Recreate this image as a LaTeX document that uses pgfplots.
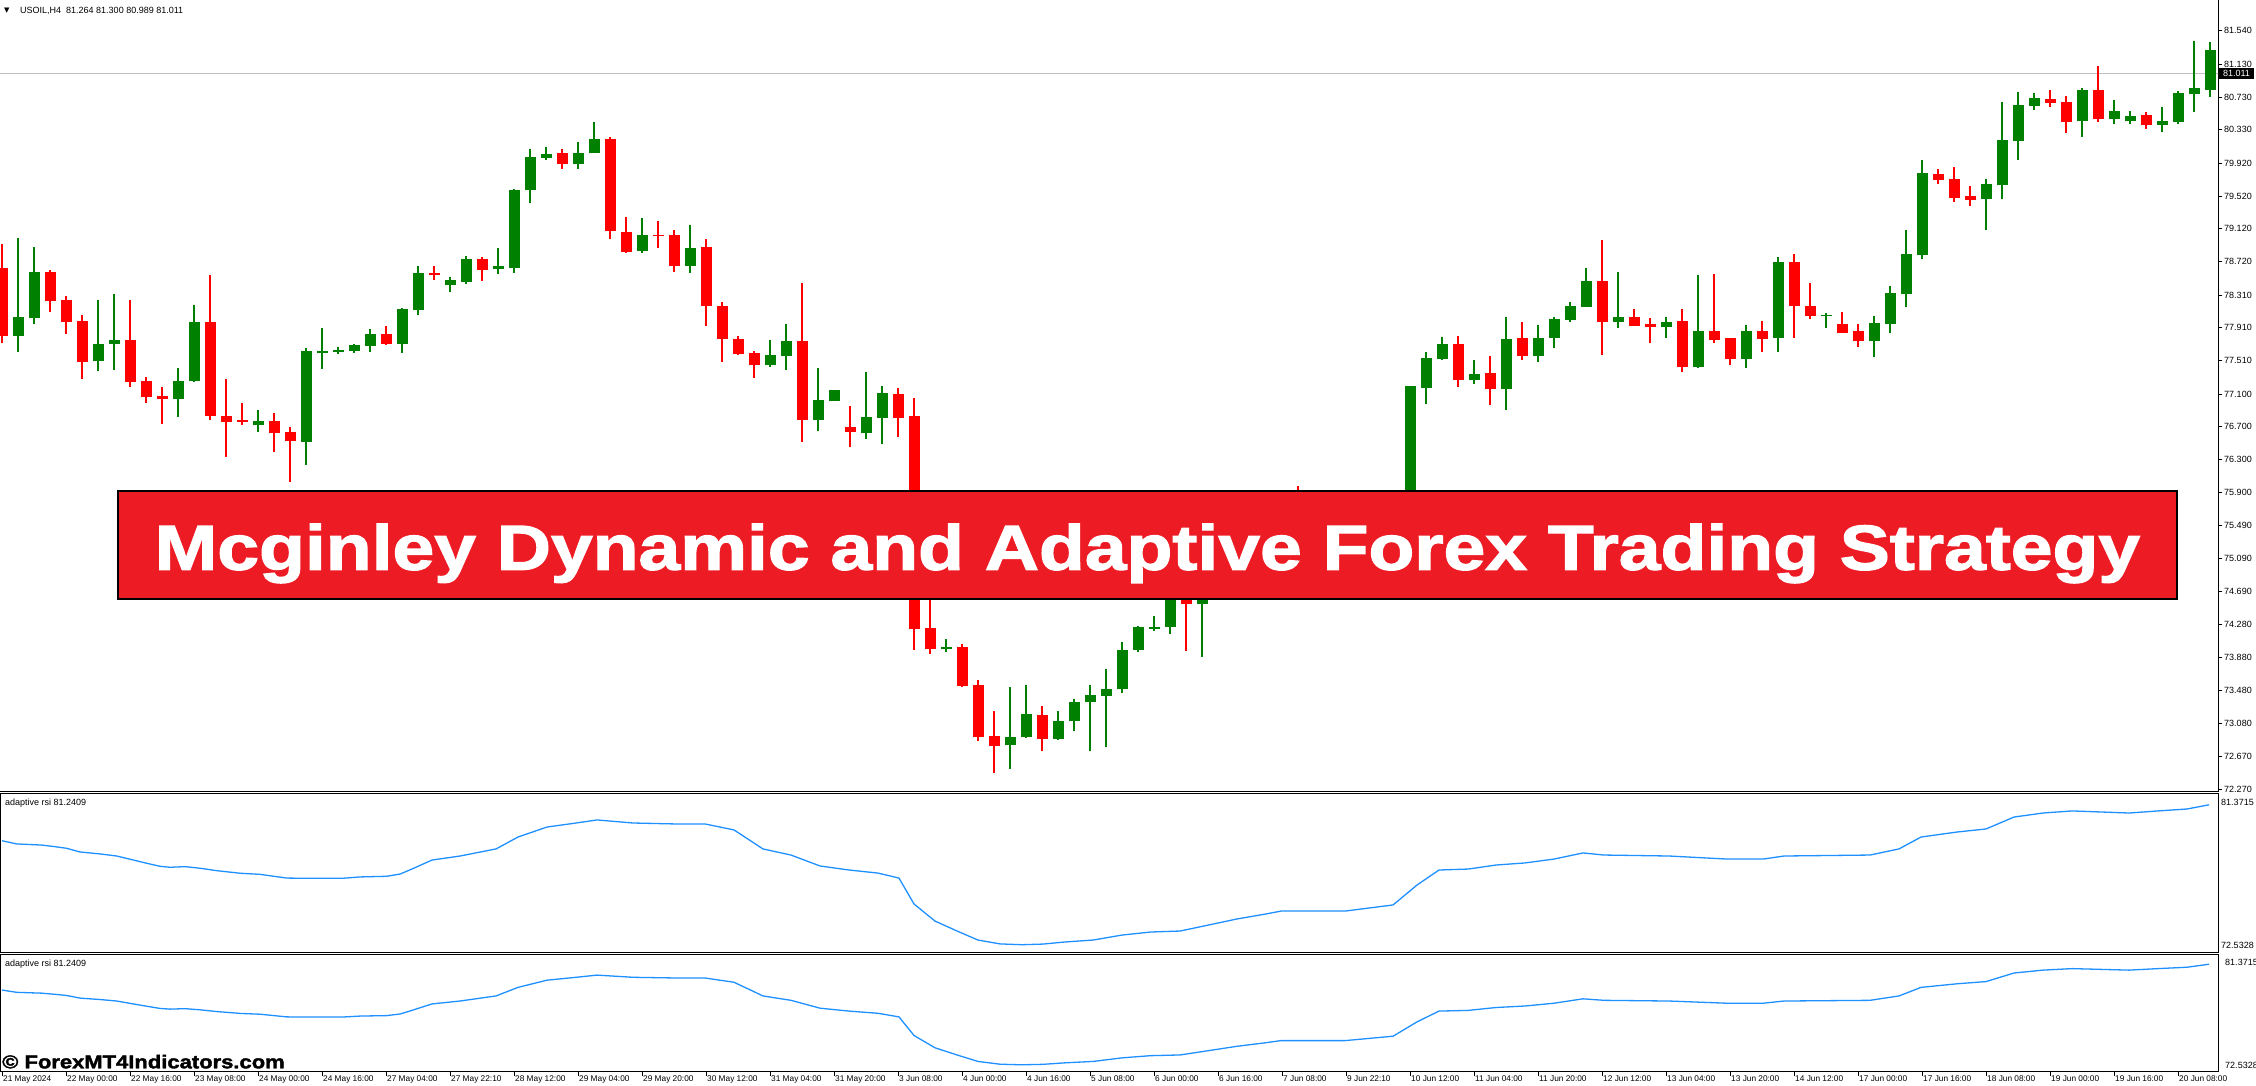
\documentclass[border=0pt]{standalone}
\usepackage{fontspec}
\setmainfont{Liberation Sans}
\newfontfamily\dejavu{DejaVu Sans}
\newfontfamily\bannerfont{Liberation Sans}[FakeStretch=1.182,FakeBold=2]
\usepackage{pgfplots}
\usepackage{pgfplotstable}
\pgfplotsset{compat=1.18}
\definecolor{cgreen}{RGB}{0,128,0}
\definecolor{cred}{RGB}{255,0,0}
\definecolor{bannerred}{RGB}{237,28,36}
\definecolor{rsiblue}{RGB}{30,144,255}
\definecolor{pgrey}{RGB}{192,192,192}

% bullish candles: index open high low close
\pgfplotstableread{
i o h l c
1 77.81 79.01 77.61 78.04
2 78.03 78.90 77.96 78.59
6 77.50 78.25 77.38 77.71
7 77.71 78.32 77.39 77.76
11 77.04 77.42 76.82 77.26
12 77.26 78.19 77.25 77.98
16 76.72 76.91 76.64 76.77
19 76.51 77.66 76.23 77.63
20 77.60 77.91 77.41 77.63
21 77.61 77.68 77.59 77.64
22 77.63 77.71 77.60 77.70
23 77.69 77.90 77.61 77.83
25 77.71 78.15 77.60 78.14
26 78.13 78.66 78.07 78.58
28 78.43 78.53 78.35 78.49
29 78.47 78.79 78.45 78.75
31 78.63 78.89 78.57 78.66
32 78.64 79.61 78.58 79.59
33 79.59 80.09 79.43 80.00
34 79.98 80.12 79.96 80.03
36 79.91 80.18 79.85 80.05
37 80.05 80.42 80.04 80.22
40 78.85 79.25 78.82 79.05
43 78.66 79.16 78.58 78.89
48 77.46 77.76 77.43 77.58
49 77.57 77.96 77.39 77.75
51 76.78 77.42 76.65 77.03
52 77.02 77.15 77.02 77.15
54 76.63 77.37 76.55 76.82
55 76.81 77.20 76.49 77.11
59 73.98 74.11 73.95 74.01
63 72.81 73.52 72.52 72.91
64 72.91 73.55 72.90 73.19
66 72.88 73.23 72.87 73.10
67 73.10 73.37 72.98 73.34
68 73.33 73.54 72.74 73.42
69 73.41 73.74 72.79 73.50
70 73.50 74.07 73.45 73.97
71 73.97 74.27 73.95 74.25
72 74.24 74.39 74.20 74.25
73 74.25 74.80 74.17 74.70
75 74.53 75.00 73.88 74.90
76 74.90 75.05 74.80 74.98
77 74.98 75.15 74.85 75.10
78 75.10 75.30 75.00 75.25
80 75.20 75.70 75.15 75.60
83 75.35 75.50 75.20 75.45
85 75.40 75.55 75.25 75.50
87 75.45 75.80 75.40 75.75
88 75.75 77.20 75.70 77.20
89 77.18 77.61 76.98 77.54
90 77.53 77.80 77.51 77.71
92 77.27 77.52 77.22 77.35
94 77.16 78.04 76.91 77.77
96 77.57 77.94 77.49 77.78
97 77.78 78.04 77.66 78.02
98 78.01 78.23 77.98 78.18
99 78.16 78.64 78.16 78.48
101 77.98 78.59 77.91 78.04
104 77.92 78.04 77.79 77.98
106 77.43 78.56 77.42 77.87
109 77.53 77.94 77.42 77.87
111 77.78 78.78 77.61 78.71
114 78.05 78.09 77.91 78.07
117 77.75 78.05 77.55 77.97
118 77.96 78.42 77.85 78.34
119 78.32 79.10 78.16 78.81
120 78.80 79.96 78.75 79.80
124 79.48 79.73 79.10 79.67
125 79.65 80.67 79.48 80.20
126 80.19 80.79 79.96 80.63
127 80.62 80.78 80.57 80.72
130 80.44 80.84 80.24 80.82
132 80.46 80.69 80.40 80.56
133 80.44 80.56 80.40 80.50
135 80.39 80.61 80.30 80.44
136 80.42 80.80 80.40 80.78
137 80.77 81.41 80.55 80.84
138 80.82 81.40 80.73 81.30
}\upbars

% bearish candles: index open high low close
\pgfplotstableread{
i o h l c
0 78.64 78.94 77.73 77.81
3 78.59 78.62 78.10 78.24
4 78.25 78.30 77.83 77.98
5 77.99 78.07 77.28 77.49
8 77.76 78.25 77.19 77.25
9 77.26 77.31 76.99 77.06
10 77.08 77.19 76.73 77.04
13 77.98 78.56 76.78 76.83
14 76.83 77.28 76.33 76.76
15 76.78 76.99 76.72 76.76
17 76.77 76.87 76.39 76.62
18 76.64 76.70 76.03 76.53
24 77.83 77.93 77.70 77.71
27 78.58 78.66 78.49 78.56
30 78.75 78.78 78.48 78.62
35 80.04 80.10 79.85 79.91
38 80.22 80.24 78.99 79.09
39 79.08 79.26 78.82 78.84
41 79.05 79.21 78.89 79.03
42 79.04 79.10 78.59 78.66
44 78.90 79.00 77.93 78.18
45 78.18 78.22 77.49 77.77
46 77.77 77.81 77.58 77.59
47 77.60 77.63 77.30 77.46
50 77.75 78.46 76.51 76.78
53 76.70 76.95 76.45 76.64
56 77.10 77.17 76.57 76.81
57 76.83 77.05 73.97 74.23
58 74.24 74.70 73.92 73.98
60 74.01 74.05 73.52 73.53
61 73.54 73.61 72.86 72.91
62 72.92 73.23 72.47 72.80
65 73.18 73.29 72.74 72.88
74 74.75 74.85 73.96 74.53
79 75.25 75.40 75.10 75.20
81 75.60 75.98 75.40 75.50
82 75.50 75.60 75.25 75.35
84 75.45 75.60 75.30 75.40
86 75.50 75.65 75.35 75.45
91 77.71 77.81 77.19 77.27
93 77.36 77.57 76.97 77.16
95 77.78 77.98 77.52 77.57
100 78.48 78.98 77.58 77.98
102 78.04 78.14 77.93 77.93
103 77.96 78.03 77.72 77.92
105 77.99 78.14 77.37 77.43
107 77.87 78.57 77.72 77.76
108 77.78 77.79 77.46 77.53
110 77.87 77.99 77.61 77.77
112 78.71 78.81 77.79 78.18
113 78.18 78.46 78.02 78.05
115 77.96 78.10 77.84 77.85
116 77.87 77.96 77.68 77.75
121 79.79 79.85 79.67 79.72
122 79.73 79.87 79.45 79.50
123 79.52 79.64 79.40 79.47
128 80.71 80.82 80.61 80.66
129 80.67 80.74 80.29 80.42
131 80.82 81.11 80.42 80.46
134 80.51 80.55 80.34 80.39
}\downbars

% adaptive rsi line
\pgfplotstableread{
x v
0 79.01
0.92 78.81
2.48 78.74
3.31 78.64
4.04 78.54
4.88 78.31
6.13 78.19
7.17 78.06
8.21 77.81
9.04 77.61
9.88 77.42
10.5 77.36
11.44 77.40
12.38 77.30
13.42 77.15
14.88 76.99
16.13 76.92
17.79 76.69
18.63 76.68
21.33 76.68
22.38 76.76
24.04 76.80
24.88 76.94
25.5 77.20
26.88 77.81
28.63 78.06
30.88 78.50
32.25 79.24
34.06 79.86
35.88 80.11
37.19 80.30
39.44 80.11
42.13 80.05
43.94 80.05
45.75 79.68
47.56 78.50
49.31 78.12
51.13 77.44
52.94 77.19
54.75 77.00
56.06 76.69
57 75.08
58.31 74.02
59.69 73.40
61 72.84
62.38 72.60
63.75 72.55
65.06 72.59
66.44 72.72
68.19 72.84
70 73.15
71.81 73.34
73.63 73.40
75.44 73.78
77.19 74.15
79 74.46
79.94 74.64
83.94 74.64
86.94 75.02
88.44 76.26
89.81 77.19
91.63 77.25
93.38 77.50
95.19 77.63
97 77.87
98.81 78.25
100.13 78.12
104.19 78.06
107.81 77.87
110.06 77.87
111.38 78.06
116.75 78.12
118.56 78.50
119.94 79.24
122.19 79.55
124 79.74
125.75 80.48
127.56 80.73
129.38 80.86
132.94 80.73
134.75 80.86
136.56 80.98
137.94 81.24
}\rsidata

\pgfplotsset{
  candlewick/.style={draw=none, no markers, forget plot,
    error bars/.cd, y dir=both, y explicit, error mark=none,
    error bar style={line width=1.4pt, draw=#1, solid}},
  candlebody/.style={draw=none, no markers, forget plot,
    error bars/.cd, y dir=both, y explicit, error mark=none,
    error bar style={line width=11pt, draw=#1, solid}},
  pane/.style={scale only axis, width=2218pt, xmin=-0.125, xmax=138.5,
    axis line style={black, line width=1pt}, anchor=south west},
}

\begin{document}
\begin{tikzpicture}
\useasboundingbox (0pt,0pt) rectangle (2256pt,1086pt);
\fill[white] (0pt,0pt) rectangle (2256pt,1086pt);

% ---------------- main price pane ----------------
\begin{axis}[pane,
  at={(0pt,294.3pt)}, height=791.7pt,
  ymin=72.240, ymax=81.915,
  xtick=\empty,
  ytick={72.270,72.670,73.080,73.480,73.880,74.280,74.690,75.090,75.490,75.900,76.300,76.700,77.100,77.510,77.910,78.310,78.720,79.120,79.520,79.920,80.330,80.730,81.130,81.540},
  yticklabels={72.270,72.670,73.080,73.480,73.880,74.280,74.690,75.090,75.490,75.900,76.300,76.700,77.100,77.510,77.910,78.310,78.720,79.120,79.520,79.920,80.330,80.730,81.130,81.540},
  ytick pos=right, yticklabel pos=right,
  tick align=outside, major tick length=4pt,
  tick style={black, line width=0.8pt},
  yticklabel style={font=\fontsize{9}{10}\selectfont, anchor=west, inner sep=0pt, xshift=2pt},
]
\addplot[pgrey, line width=1pt, forget plot] coordinates {(-1,81.011) (140,81.011)};
\addplot[candlewick=cgreen] table[x=i, y expr={(\thisrow{h}+\thisrow{l})/2}, y error expr={(\thisrow{h}-\thisrow{l})/2}] {\upbars};
\addplot[candlewick=cred] table[x=i, y expr={(\thisrow{h}+\thisrow{l})/2}, y error expr={(\thisrow{h}-\thisrow{l})/2}] {\downbars};
\addplot[candlebody=cgreen] table[x=i, y expr={(\thisrow{o}+\thisrow{c})/2}, y error expr={max(abs(\thisrow{c}-\thisrow{o})/2,0.007)}] {\upbars};
\addplot[candlebody=cred] table[x=i, y expr={(\thisrow{o}+\thisrow{c})/2}, y error expr={max(abs(\thisrow{c}-\thisrow{o})/2,0.007)}] {\downbars};
\end{axis}

% ---------------- indicator pane 1 ----------------
\begin{axis}[pane,
  at={(0pt,133pt)}, height=159pt,
  ymin=72.036, ymax=81.912,
  xtick=\empty,
  ytick={72.5328,81.3715}, yticklabels={72.5328,81.3715},
  ytick pos=right, yticklabel pos=right, major tick length=0pt,
  yticklabel style={font=\fontsize{9}{10}\selectfont, anchor=west, inner sep=0pt, xshift=3pt},
]
\addplot[rsiblue, line width=1.3pt, forget plot] table[x=x, y=v] {\rsidata};
\end{axis}

% ---------------- indicator pane 2 ----------------
\begin{axis}[pane,
  at={(0pt,14pt)}, height=117pt,
  ymin=71.928, ymax=82.037,
  xtick={0,4,...,136},
  xticklabels={21 May 2024,22 May 00:00,22 May 16:00,23 May 08:00,24 May 00:00,24 May 16:00,27 May 04:00,27 May 22:10,28 May 12:00,29 May 04:00,29 May 20:00,30 May 12:00,31 May 04:00,31 May 20:00,3 Jun 08:00,4 Jun 00:00,4 Jun 16:00,5 Jun 08:00,6 Jun 00:00,6 Jun 16:00,7 Jun 08:00,9 Jun 22:10,10 Jun 12:00,11 Jun 04:00,11 Jun 20:00,12 Jun 12:00,13 Jun 04:00,13 Jun 20:00,14 Jun 12:00,17 Jun 00:00,17 Jun 16:00,18 Jun 08:00,19 Jun 00:00,19 Jun 16:00,20 Jun 08:00},
  xtick pos=bottom, xticklabel pos=bottom,
  ytick={72.5328,81.3715}, yticklabels={72.5328,81.3715},
  ytick pos=right, yticklabel pos=right,
  tick align=outside, major tick length=4pt,
  tick style={black, line width=0.8pt},
  ytick style={draw=none},
  xticklabel style={font=\fontsize{8.3}{9}\selectfont, anchor=north west, inner sep=0pt, xshift=1pt},
  yticklabel style={font=\fontsize{9}{10}\selectfont, anchor=west, inner sep=0pt, xshift=3pt},
]
\addplot[rsiblue, line width=1.3pt, forget plot] table[x=x, y=v] {\rsidata};
\end{axis}

% header and pane captions
\node[anchor=west, inner sep=0pt] at (4pt,1075pt) {\dejavu\fontsize{7}{7}\selectfont ▼};
\node[anchor=west, inner sep=0pt] at (20pt,1075pt) {\fontsize{9}{10}\selectfont USOIL,H4\ \ 81.264 81.300 80.989 81.011};
\node[anchor=west, inner sep=0pt] at (5pt,282.7pt) {\fontsize{9}{10}\selectfont adaptive rsi 81.2409};
\node[anchor=west, inner sep=0pt] at (5pt,121.7pt) {\fontsize{9}{10}\selectfont adaptive rsi 81.2409};

% current price box
\fill[black] (2219pt,1007.3pt) rectangle (2254pt,1017.7pt);
\node[anchor=center, inner sep=0pt, text=white] at (2236.5pt,1012.5pt) {\fontsize{9}{10}\selectfont 81.011};

% banner
\draw[fill=bannerred, draw=black, line width=2.5pt] (118pt,487pt) rectangle (2177pt,595pt);
\node[anchor=base, inner sep=0pt, text=white] at (1147.5pt,516.3pt) {\bannerfont\bfseries\fontsize{63.5}{64}\selectfont Mcginley Dynamic and Adaptive Forex Trading Strategy};

% watermark
\node[anchor=base west, inner sep=0pt] at (2pt,17.7pt) {\bannerfont\bfseries\fontsize{18.6}{20}\selectfont © ForexMT4Indicators.com};
\end{tikzpicture}
\end{document}
